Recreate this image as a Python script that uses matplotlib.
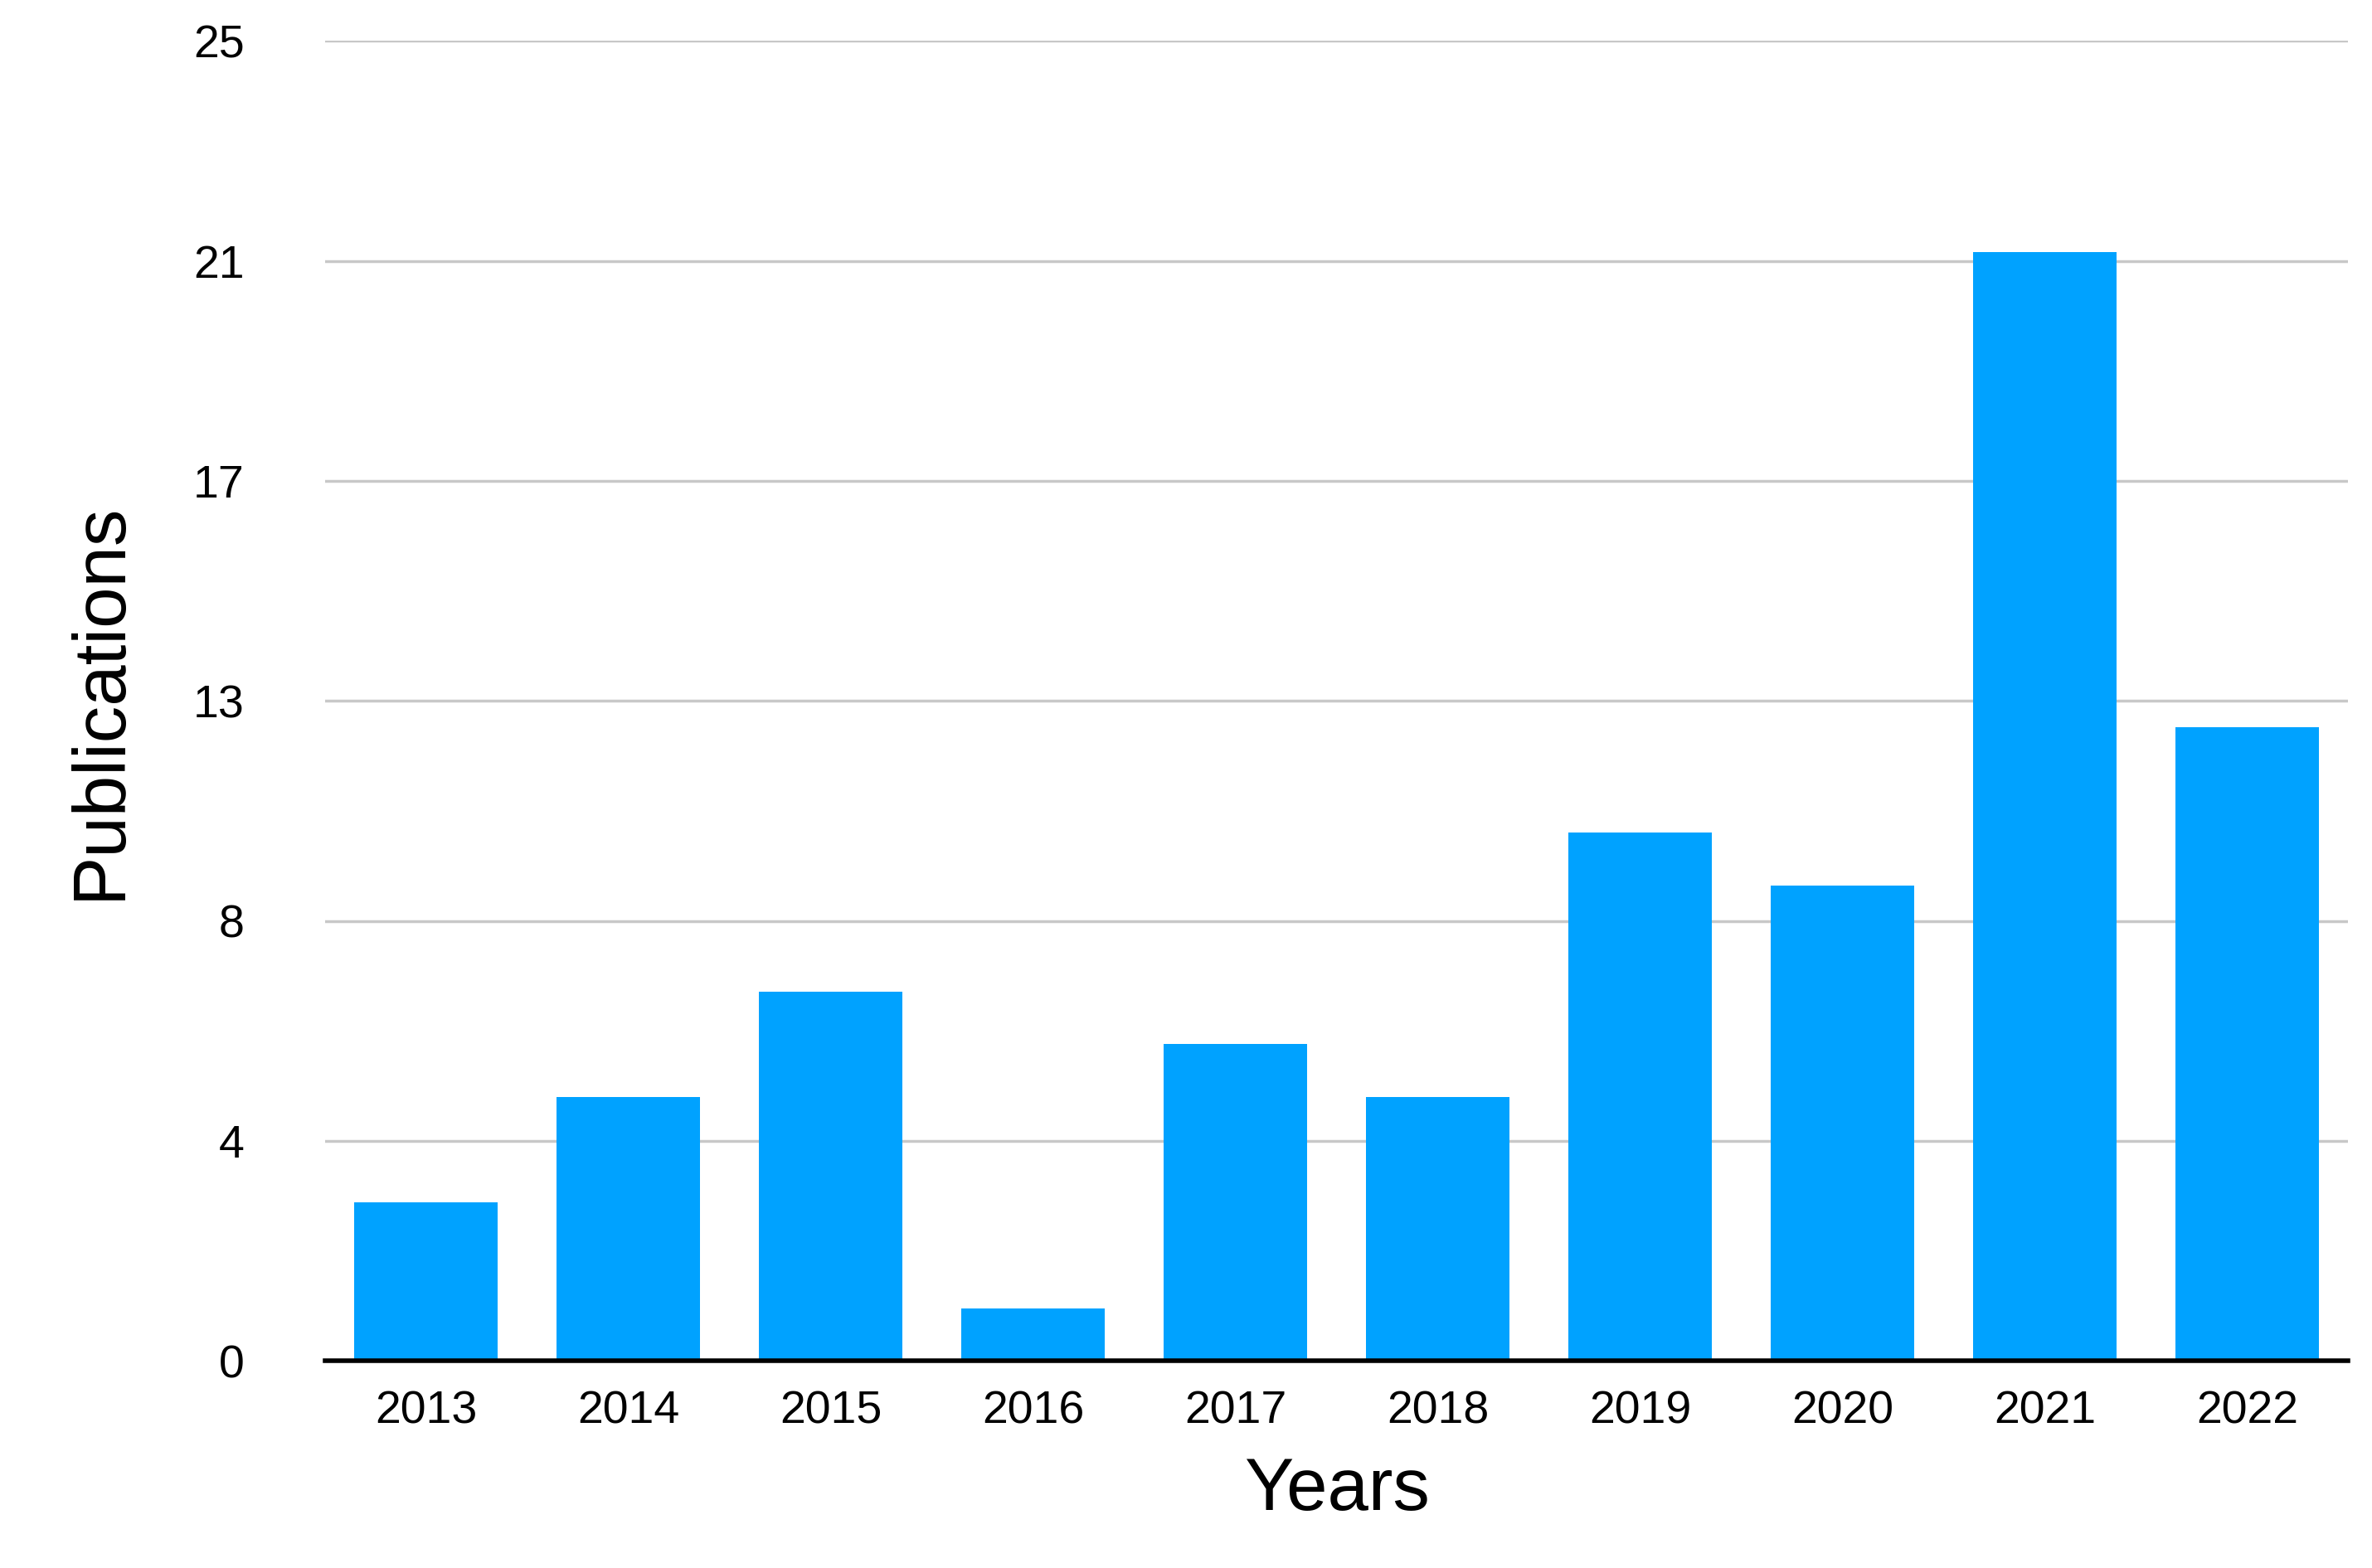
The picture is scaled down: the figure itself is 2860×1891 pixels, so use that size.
import numpy as np
import matplotlib.pyplot as plt

plt.rcParams['font.family'] = ['Liberation Sans', 'DejaVu Sans']

years = ["2013", "2014", "2015", "2016", "2017", "2018", "2019", "2020", "2021", "2022"]
publications = [3, 5, 7, 1, 6, 5, 10, 9, 21, 12]

fig = plt.figure(figsize=(28.6, 18.91), dpi=100)
ax = fig.add_axes([0.137, 0.132, 0.853, 0.842])

x = np.arange(len(years))
ax.bar(x, publications, width=0.71, color='#00A2FF', zorder=2)

yticks = np.linspace(0, 25, 7)
ax.set_yticks(yticks)
ax.set_yticklabels([str(int(round(v + 1e-9))) if v % 1 != 0.5 else str(int(v + 0.5)) for v in yticks])
ax.set_ylim(0, 25)
ax.set_xlim(-0.5, len(years) - 0.5)
ax.set_xticks(x)
ax.set_xticklabels(years)
ax.grid(axis='y', color='#c8c8c8', linewidth=2.5, zorder=0)

for s in ['top', 'right', 'left']:
    ax.spines[s].set_visible(False)
ax.spines['bottom'].set_linewidth(4)
ax.spines['bottom'].set_zorder(3)
ax.tick_params(axis='both', length=0, labelsize=40, pad=25)
ax.tick_params(axis='y', pad=70)

ax.set_xlabel("Years", fontsize=64, labelpad=20)
ax.set_ylabel("Publications", fontsize=64, labelpad=50)

fig.savefig("out.png")
